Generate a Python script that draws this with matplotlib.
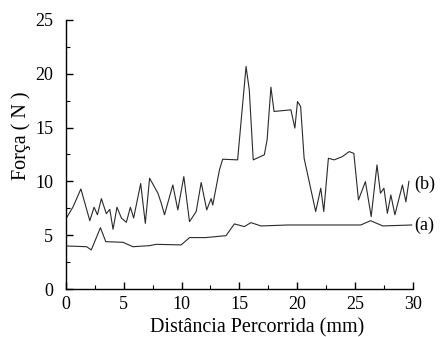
import matplotlib
matplotlib.use("Agg")
import matplotlib.pyplot as plt
from matplotlib.ticker import MultipleLocator

# Force curve (b)
xb = [0.05, 0.63, 1.3, 2.07, 2.44, 2.73, 3.07, 3.5, 3.8, 4.08, 4.42, 4.8, 5.23,
      5.58, 5.86, 6.47, 6.87, 7.24, 7.96, 8.25, 8.53, 8.97, 9.25, 9.68, 10.2,
      10.69, 11.27, 11.7, 12.18, 12.56, 12.7, 13.28, 13.56, 14.85, 15.58, 15.86,
      16.2, 17.16, 17.4, 17.73, 18.0, 19.46, 19.8, 20.03, 20.3, 20.6, 21.6,
      22.04, 22.3, 22.7, 23.2, 23.9, 24.5, 24.9, 25.3, 25.9, 26.4, 26.9, 27.2,
      27.5, 27.8, 28.1, 28.45, 29.1, 29.4, 29.66]
yb = [6.6, 7.65, 9.3, 6.35, 7.6, 6.9, 8.4, 7.0, 7.4, 5.55, 7.6, 6.6, 6.2,
      7.6, 6.6, 9.8, 6.1, 10.3, 8.9, 7.97, 6.9, 8.6, 9.67, 7.35, 10.45,
      6.26, 7.2, 9.9, 7.35, 8.4, 7.8, 11.07, 12.06, 12.0, 20.68, 18.5,
      12.0, 12.47, 13.86, 18.76, 16.5, 16.65, 14.95, 17.42, 16.96, 12.15, 7.2,
      9.37, 7.2, 12.15, 12.0, 12.3, 12.77, 12.6, 8.28, 9.98, 6.73, 11.53, 8.9,
      9.37, 7.04, 8.74, 6.9, 9.67, 8.1, 10.0]

# Force curve (a)
xa = [0.05, 1.8, 2.2, 2.99, 3.45, 4.94, 5.8, 7.24, 7.8, 9.97, 10.7, 12.1,
      13.85, 14.57, 15.43, 16.0, 16.87, 19.2, 25.5, 26.35, 27.4, 29.9]
ya = [4.0, 3.93, 3.63, 5.7, 4.4, 4.34, 3.93, 4.03, 4.15, 4.1, 4.78, 4.78,
      4.96, 6.05, 5.8, 6.17, 5.86, 5.95, 5.95, 6.35, 5.86, 5.95]

plt.rcParams['font.family'] = ['Liberation Serif', 'DejaVu Serif']

fig = plt.figure(figsize=(4.42, 3.37), dpi=100)
ax = fig.add_axes([0.149, 0.1424, 0.785, 0.7983])

ax.plot(xb, yb, color='#2a2a2a', lw=0.8)
ax.plot(xa, ya, color='#2a2a2a', lw=0.8)

ax.text(30.1, 9.7, '(b)', fontsize=13, va='center', ha='left', clip_on=False)
ax.text(30.1, 5.95, '(a)', fontsize=13, va='center', ha='left', clip_on=False)

ax.set_xlim(0, 30)
ax.set_ylim(0, 25)
ax.xaxis.set_major_locator(MultipleLocator(5))
ax.xaxis.set_minor_locator(MultipleLocator(2.5))
ax.yaxis.set_major_locator(MultipleLocator(5))
ax.yaxis.set_minor_locator(MultipleLocator(2.5))

for s in ('top', 'right'):
    ax.spines[s].set_visible(False)
for s in ('left', 'bottom'):
    ax.spines[s].set_linewidth(1.0)

ax.tick_params(which='major', direction='in', length=5, width=1.0, labelsize=13)
ax.tick_params(which='minor', direction='in', length=3, width=0.8)
ax.tick_params(axis='x', pad=5)
ax.tick_params(axis='y', pad=9)

ax.set_xlabel('Distância Percorrida (mm)', fontsize=14.5)
ax.set_ylabel('Força ( N )', fontsize=14.5)
ax.xaxis.set_label_coords(0.55, -0.108)
ax.yaxis.set_label_coords(-0.10, 0.57)

fig.savefig('out.png', dpi=100)
